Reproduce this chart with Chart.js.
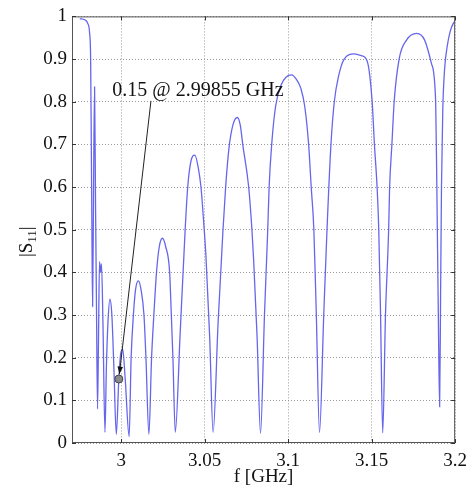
<!DOCTYPE html>
<html>
<head>
<meta charset="utf-8">
<script src="https://cdn.jsdelivr.net/npm/chart.js@4.4.1/dist/chart.umd.min.js"></script>
<style>
  html, body { margin: 0; padding: 0; background: #fff; }
  #wrap { width: 474px; height: 489px; }
</style>
</head>
<body>
<div id="wrap"><canvas id="s11-chart" width="474" height="489"></canvas></div>
<script>
// frequency, GHz
const freq = [
  2.97515, 2.97811, 2.97988, 2.98107, 2.98166, 2.98207, 2.98243, 2.98284, 2.98343, 2.98402,
  2.98462, 2.98521, 2.98580, 2.98639, 2.98698, 2.98757, 2.98817, 2.98905, 2.99024, 2.99112,
  2.99201, 2.99320, 2.99438, 2.99556, 2.99704, 2.99855, 2.99970, 3.00089, 3.00237, 3.00473,
  3.00592, 3.00728, 3.00858, 3.01024, 3.01183, 3.01361, 3.01479, 3.01657, 3.01817, 3.01953,
  3.02112, 3.02278, 3.02467, 3.02663, 3.02899, 3.03000, 3.03095, 3.03237, 3.03521, 3.03828,
  3.03982, 3.04172, 3.04408, 3.04615, 3.04775, 3.04970, 3.05071, 3.05296, 3.05503, 3.05799,
  3.06095, 3.06254, 3.06450, 3.06686, 3.06953, 3.07130, 3.07278, 3.07633, 3.07828, 3.07929,
  3.08136, 3.08343, 3.08580, 3.08775, 3.08858, 3.09012, 3.09249, 3.09586, 3.09882, 3.10195,
  3.10533, 3.10769, 3.10988, 3.11225, 3.11379, 3.11538, 3.11686, 3.11876, 3.12130, 3.12325,
  3.12562, 3.12763, 3.13018, 3.13355, 3.13947, 3.14379, 3.14734, 3.15030, 3.15166, 3.15325,
  3.15426, 3.15533, 3.15663, 3.15828, 3.16018, 3.16077, 3.16213, 3.16349, 3.16645, 3.17101,
  3.17692, 3.18166, 3.18580, 3.18834, 3.18905, 3.18994, 3.19071, 3.19130, 3.19183, 3.19260,
  3.19367, 3.19527, 3.19704, 3.19882, 3.20000
];

// |S11|
const s11 = [
  0.995, 0.992, 0.984, 0.96, 0.90, 0.70, 0.50, 0.32, 0.60, 0.835,
  0.55, 0.30, 0.08, 0.25, 0.425, 0.40, 0.42, 0.28, 0.025, 0.18,
  0.28, 0.337, 0.30, 0.18, 0.02, 0.15, 0.21, 0.22, 0.15, 0.015,
  0.20, 0.30, 0.36, 0.38, 0.36, 0.30, 0.20, 0.02, 0.20, 0.30,
  0.40, 0.46, 0.48, 0.46, 0.40, 0.30, 0.20, 0.025, 0.25, 0.50,
  0.60, 0.66, 0.675, 0.645, 0.60, 0.50, 0.44, 0.25, 0.025, 0.28,
  0.50, 0.60, 0.69, 0.745, 0.763, 0.745, 0.70, 0.60, 0.50, 0.43,
  0.25, 0.023, 0.30, 0.50, 0.60, 0.70, 0.79, 0.84, 0.858, 0.863,
  0.85, 0.83, 0.79, 0.70, 0.60, 0.50, 0.30, 0.025, 0.30, 0.50,
  0.70, 0.80, 0.86, 0.90, 0.912, 0.908, 0.895, 0.80, 0.70, 0.60,
  0.50, 0.30, 0.024, 0.30, 0.50, 0.60, 0.70, 0.80, 0.90, 0.945,
  0.96, 0.945, 0.89, 0.80, 0.60, 0.30, 0.085, 0.35, 0.60, 0.78,
  0.875, 0.93, 0.965, 0.983, 0.99
];

const xTicks = [3, 3.05, 3.1, 3.15, 3.2];
const yTicks = [0, 0.1, 0.2, 0.3, 0.4, 0.5, 0.6, 0.7, 0.8, 0.9, 1];
const xTickLabels = ["3", "3.05", "3.1", "3.15", "3.2"];
const yTickLabels = ["0", "0.1", "0.2", "0.3", "0.4", "0.5", "0.6", "0.7", "0.8", "0.9", "1"];

// marked point
const markerFreq = 2.99855;
const markerVal = 0.15;
const markerText = "0.15 @ 2.99855 GHz";

const SERIF = '"Liberation Serif", "Times New Roman", serif';

// box, inner ticks, y title and the annotation
const extrasPlugin = {
  id: "extras",
  afterDatasetsDraw(chart) {
    const { ctx, chartArea: a, scales: { x, y } } = chart;
    ctx.save();

    // box round the axes
    ctx.strokeStyle = "#555";
    ctx.lineWidth = 1;
    ctx.strokeRect(a.left + 0.5, a.top + 0.5, a.right - a.left - 1, a.bottom - a.top - 1);

    // inward ticks
    ctx.strokeStyle = "#333";
    ctx.beginPath();
    xTicks.forEach(v => {
      const px = Math.round(x.getPixelForValue(v)) + 0.5;
      ctx.moveTo(px, a.bottom); ctx.lineTo(px, a.bottom - 4);
      ctx.moveTo(px, a.top); ctx.lineTo(px, a.top + 4);
    });
    yTicks.forEach(v => {
      const py = Math.round(y.getPixelForValue(v)) + 0.5;
      ctx.moveTo(a.left, py); ctx.lineTo(a.left + 4, py);
      ctx.moveTo(a.right, py); ctx.lineTo(a.right - 4, py);
    });
    ctx.stroke();

    // arrow to the marked point
    const mx = x.getPixelForValue(markerFreq);
    const my = y.getPixelForValue(markerVal);
    const sx = x.getPixelForValue(3.0178);
    const sy = y.getPixelForValue(0.802);
    const ang = Math.atan2(my - sy, mx - sx);
    const ex = mx - Math.cos(ang) * 5;
    const ey = my - Math.sin(ang) * 5;
    ctx.strokeStyle = "#222";
    ctx.lineWidth = 1;
    ctx.beginPath();
    ctx.moveTo(sx, sy);
    ctx.lineTo(ex, ey);
    ctx.stroke();
    ctx.fillStyle = "#111";
    ctx.beginPath();
    ctx.moveTo(ex, ey);
    ctx.lineTo(ex - 8 * Math.cos(ang - 0.35), ey - 8 * Math.sin(ang - 0.35));
    ctx.lineTo(ex - 8 * Math.cos(ang + 0.35), ey - 8 * Math.sin(ang + 0.35));
    ctx.closePath();
    ctx.fill();

    // annotation text
    ctx.font = "20px " + SERIF;
    ctx.fillStyle = "#111";
    ctx.textAlign = "left";
    ctx.textBaseline = "alphabetic";
    ctx.fillText(markerText, x.getPixelForValue(2.99467), y.getPixelForValue(0.814));

    // y title |S11| with subscript
    const big = "19px " + SERIF, small = "13px " + SERIF;
    ctx.font = big;
    const w1 = ctx.measureText("|S").width;
    const w3 = ctx.measureText("|").width;
    ctx.font = small;
    const w2 = ctx.measureText("11").width;
    const total = w1 + w2 + w3;
    ctx.translate(27, (a.top + a.bottom) / 2 + 12);
    ctx.rotate(-Math.PI / 2);
    let cx = -total / 2;
    ctx.textBaseline = "middle";
    ctx.font = big;
    ctx.fillText("|S", cx, 0);
    cx += w1;
    ctx.font = small;
    ctx.fillText("11", cx, 6);
    cx += w2;
    ctx.font = big;
    ctx.fillText("|", cx, 0);

    ctx.restore();
  }
};

const ctxS11 = document.getElementById("s11-chart").getContext("2d");

new Chart(ctxS11, {
  type: "scatter",
  data: {
    datasets: [
      {
        label: "marker",
        data: [{ x: markerFreq, y: markerVal }],
        pointRadius: 4,
        pointBackgroundColor: "#8a8a8a",
        pointBorderColor: "#444",
        pointBorderWidth: 1,
        showLine: false
      },
      {
        label: "|S11|",
        data: freq.map((f, i) => ({ x: f, y: s11[i] })),
        showLine: true,
        borderColor: "rgba(85, 85, 235, 0.9)",
        borderWidth: 1.3,
        pointRadius: 0,
        cubicInterpolationMode: "monotone",
        fill: false
      }
    ]
  },
  options: {
    responsive: false,
    animation: false,
    layout: { padding: { top: 13, right: 15, left: 0, bottom: 0 } },
    plugins: { legend: { display: false }, tooltip: { enabled: false } },
    scales: {
      x: {
        type: "linear",
        min: 2.9705,
        max: 3.2,
        afterBuildTicks: s => { s.ticks = xTicks.map(v => ({ value: v })); },
        afterFit: s => { s.height = 46; },
        grid: { color: "#999", lineWidth: 1, drawTicks: false },
        border: { display: false, dash: [1, 2] },
        ticks: {
          padding: 7,
          color: "#111",
          font: { family: SERIF, size: 19 },
          callback: v => xTickLabels[xTicks.indexOf(v)] ?? String(v)
        },
        title: {
          display: true,
          text: "f [GHz]",
          color: "#111",
          font: { family: SERIF, size: 19 },
          padding: { top: 0, bottom: 1 }
        }
      },
      y: {
        type: "linear",
        min: 0,
        max: 1,
        afterBuildTicks: s => { s.ticks = yTicks.map(v => ({ value: v })); },
        afterFit: s => { s.width = 72; },
        grid: { color: "#999", lineWidth: 1, drawTicks: false },
        border: { display: false, dash: [1, 2] },
        ticks: {
          padding: 5,
          color: "#111",
          font: { family: SERIF, size: 19 },
          callback: v => yTickLabels[yTicks.indexOf(v)] ?? String(v)
        }
      }
    }
  },
  plugins: [extrasPlugin]
});
</script>
</body>
</html>
